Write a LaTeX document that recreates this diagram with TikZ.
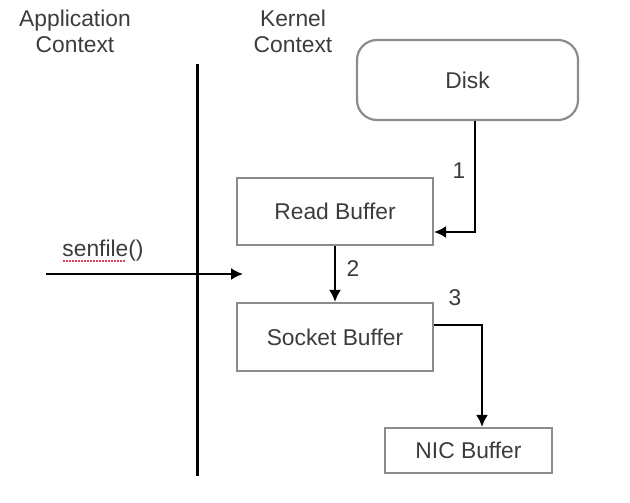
\documentclass[tikz,border=0pt]{standalone}
\usepackage{fontspec}
\setmainfont{Liberation Sans}
\usepackage{xcolor}
\usetikzlibrary{arrows.meta,calc,positioning}

\definecolor{boxgray}{HTML}{8C8C8C}
\definecolor{txtgray}{HTML}{3C3C3C}
\definecolor{spellred}{HTML}{E0405A}

\tikzset{
  buf/.style={draw=boxgray, line width=2.2pt, text=txtgray, minimum width=196pt, minimum height=67pt, inner sep=0pt},
  flow/.style={line width=2pt, -{Latex[length=12pt,width=12pt]}},
  lbl/.style={text=txtgray}
}

\begin{document}
\begin{tikzpicture}[x=1pt,y=-1pt,font=\fontsize{22.8}{26}\selectfont]
\useasboundingbox (0,0) rectangle (630,503);

      \node[lbl,align=center] (apptxt) at (75,31) {Application\\Context};% left header
      \node[lbl,align=center] (kertxt) at (293,31) {Kernel\\Context};% right header

	\draw[line width=3pt] (197,64) -- (197,476);% context border

	\node[buf,rounded corners=20pt,minimum width=221pt,minimum height=80pt] (disk) at (467.5,80) {Disk};
	\node[buf] (readbuf) at (335,211.5) {Read Buffer};
	\node[buf,minimum height=68pt] (sockbuf) at (335,337) {Socket Buffer};
	\node[buf,minimum width=167pt,minimum height=45pt] (nicbuf) at (468.5,450.5) {NIC Buffer};

\draw[flow] (disk.south -| 475,0) |- (readbuf.east |- 0,232);% step 1
\draw[flow] (readbuf.south) -- (sockbuf.north);% step 2
\draw[flow] (sockbuf.east |- 0,325) -| (nicbuf.north -| 482,0);% step 3
      \node[lbl] (one) at (459,171) {1};
      \node[lbl] (two) at (353,269) {2};
      \node[lbl] (three) at (455,298) {3};

	\coordinate (callin) at (46,274);
	\coordinate (callout) at (243,274);
\draw[flow] (callin) -- (callout);% sendfile call
      \node[lbl] (call) at (103,251) {senfile()};
\draw[spellred, line width=1.5pt, dash pattern=on 1.5pt off 1.5pt] (63,261) -- (125,261);% spell mark

\end{tikzpicture}
\end{document}
